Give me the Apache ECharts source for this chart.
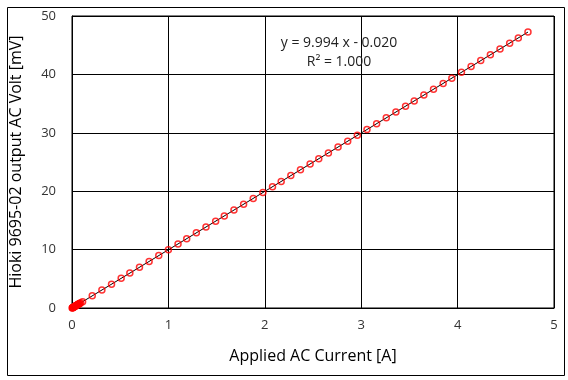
<!DOCTYPE html>
<html>
<head>
<meta charset="utf-8">
<script src="https://cdn.jsdelivr.net/npm/echarts@6/dist/echarts.min.js"></script>
<style>html,body{margin:0;padding:0;background:#fff}#c{width:568px;height:380px}</style>
</head>
<body>
<div id="c"></div>
<script>
var currentA = [0.002,0.005,0.008,0.01,0.015,0.02,0.025,0.03,0.035,0.04,0.045,0.05,0.055,0.06,0.065,0.07,0.075,0.08,0.09,
  0.11,0.21,0.31,0.41,0.51,0.60,0.70,0.80,0.90,1.00,1.10,1.19,1.29,1.39,1.49,1.58,1.68,1.78,1.88,1.98,
  2.08,2.17,2.27,2.37,2.47,2.56,2.66,2.76,2.86,2.96,3.06,3.16,3.26,3.36,3.46,3.55,3.65,3.75,3.85,3.94,
  4.04,4.14,4.24,4.34,4.44,4.54,4.63,4.73];
var voltMV = [0.0,0.03,0.06,0.08,0.13,0.18,0.23,0.28,0.33,0.38,0.43,0.48,0.53,0.58,0.63,0.68,0.73,0.78,0.88,
  1.08,2.08,3.08,4.08,5.08,5.98,6.98,7.98,8.97,9.97,10.97,11.87,12.87,13.87,14.87,15.77,16.77,17.77,18.77,19.77,
  20.77,21.67,22.67,23.67,24.66,25.56,26.56,27.56,28.56,29.56,30.56,31.56,32.56,33.56,34.56,35.46,36.46,37.46,38.46,39.36,
  40.36,41.36,42.36,43.36,44.35,45.35,46.25,47.25];
var trendX = [0.002, 4.73];
var trendY = [0.0, 47.25];
var xTicks = [0,1,2,3,4,5];
var yTicks = [0,10,20,30,40,50];
var xTitle = 'Applied AC Current [A]';
var yTitle = 'Hioki 9695-02 output AC Volt [mV]';
var eqText = 'y = 9.994 x - 0.020';
var r2Text = 'R² = 1.000';

var FONT = '"Open Sans", "Noto Sans", sans-serif';
var chart = echarts.init(document.getElementById('c'), null, {renderer:'canvas'});
var pts = currentA.map(function(x,i){return [x, voltMV[i]];});
var trend = trendX.map(function(x,i){return [x, trendY[i]];});
chart.setOption({
  animation:false,
  backgroundColor:'#fff',
  grid:{left:72, top:16, width:482, height:292, show:true, borderColor:'#000', borderWidth:1},
  xAxis:{type:'value', min:xTicks[0], max:xTicks[xTicks.length-1], interval:1,
    axisLine:{show:true, lineStyle:{color:'#000', width:1}}, axisTick:{show:false},
    splitLine:{show:true, lineStyle:{color:'#000', width:1}},
    axisLabel:{color:'#333', fontSize:13, fontFamily:FONT, margin:11},
    name:xTitle, nameLocation:'middle', nameGap:40,
    nameTextStyle:{color:'#000', fontSize:16, fontFamily:FONT}},
  yAxis:{type:'value', min:yTicks[0], max:yTicks[yTicks.length-1], interval:10,
    axisLine:{show:true, lineStyle:{color:'#000', width:1}}, axisTick:{show:false},
    splitLine:{show:true, lineStyle:{color:'#000', width:1}},
    axisLabel:{color:'#333', fontSize:13, fontFamily:FONT, margin:16},
    name:yTitle, nameLocation:'middle', nameGap:48, nameRotate:90,
    nameTextStyle:{color:'#000', fontSize:16, fontFamily:FONT}},
  series:[
    {type:'line', data:trend, symbol:'none', lineStyle:{color:'#000', width:1}, z:3, silent:true},
    {type:'scatter', data:pts, symbol:'circle', symbolSize:6,
      itemStyle:{color:'rgba(255,255,255,0)', borderColor:'#f00', borderWidth:1.5}, z:4}
  ],
  graphic:[
    {type:'rect', left:5, top:5, shape:{x:0.5, y:0.5, width:557, height:368},
      style:{fill:'none', stroke:'#000', lineWidth:1}, silent:true},
    {type:'text', x:339, y:43, style:{text:eqText, fill:'#222', font:'14px '+FONT, textAlign:'center', textVerticalAlign:'middle'}, z:10},
    {type:'text', x:339, y:62, style:{text:r2Text, fill:'#222', font:'14px '+FONT, textAlign:'center', textVerticalAlign:'middle'}, z:10}
  ]
});
</script>
</body>
</html>
